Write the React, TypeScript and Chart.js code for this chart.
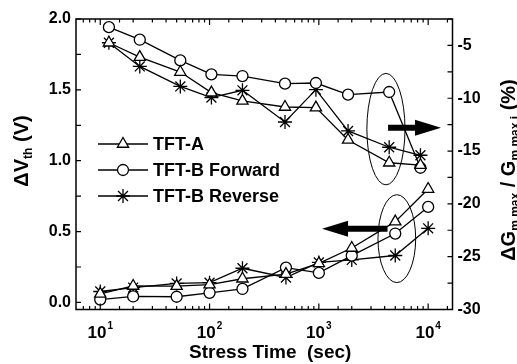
import React, { useEffect, useRef } from 'react';
import { Chart, registerables } from 'chart.js';

Chart.register(...registerables);

const FONT = "'Liberation Sans', Arial, sans-serif";

// stress times (s)
const timesLower = [10, 20, 50, 100, 200, 500, 1000, 2000, 5000, 10000];
const timesUpper = [12, 23, 54, 104, 200, 490, 940, 1850, 4400, 8500];

// ΔVth (V), left axis
const dvthTftA = [0.06, 0.116, 0.115, 0.125, 0.167, 0.2, 0.275, 0.384, 0.57, 0.8];
const dvthTftBFwd = [0.02, 0.042, 0.04, 0.068, 0.095, 0.246, 0.208, 0.33, 0.486, 0.674];
const dvthTftBRev = [0.077, 0.105, 0.134, 0.139, 0.241, 0.176, 0.282, 0.3, 0.331, 0.523];

// ΔGm_max / Gm_max_i (%), right axis
const dgmTftA = [-4.75, -6.11, -7.52, -9.47, -10.26, -10.83, -10.89, -13.95, -16.11, -16.34];
const dgmTftBFwd = [-3.27, -4.46, -6.42, -7.74, -7.9, -8.62, -8.56, -9.66, -9.41, -16.58];
const dgmTftBRev = [-4.75, -6.99, -8.88, -9.94, -9.25, -12.25, -9.19, -13.1, -14.64, -15.4];

const legendLabels = ['TFT-A', 'TFT-B Forward', 'TFT-B Reverse'];
const legendStyles = ['triangle', 'circle', 'star'];

// annotation extents in data units
const ellipseUpper = { x: [2750, 6140], y: [-18.2, -7.65], axis: 'y1' };
const ellipseLower = { x: [3475, 7690], y: [0.14, 0.76], axis: 'y' };
const arrowUpper = { x: [4300, 13100], y: -12.8, axis: 'y1' };
const arrowLower = { x: [4250, 1070], y: 0.52, axis: 'y' };

const toPts = (xs: number[], ys: number[]) => xs.map((x, i) => ({ x, y: ys[i] }));

const radiusFor: Record<string, number> = { triangle: 6.5, circle: 5.5, star: 7 };

function drawMarker(ctx: CanvasRenderingContext2D, style: string, x: number, y: number) {
  const r = radiusFor[style];
  ctx.save();
  ctx.lineWidth = 1.3;
  ctx.strokeStyle = '#000';
  ctx.fillStyle = '#fff';
  ctx.beginPath();
  if (style === 'circle') {
    ctx.arc(x, y, r, 0, Math.PI * 2);
    ctx.fill();
    ctx.stroke();
  } else if (style === 'triangle') {
    let a = 0;
    ctx.moveTo(x + Math.sin(a) * r, y - Math.cos(a) * r);
    a += (2 * Math.PI) / 3;
    ctx.lineTo(x + Math.sin(a) * r, y - Math.cos(a) * r);
    a += (2 * Math.PI) / 3;
    ctx.lineTo(x + Math.sin(a) * r, y - Math.cos(a) * r);
    ctx.closePath();
    ctx.fill();
    ctx.stroke();
  } else {
    for (let k = 0; k < 4; k++) {
      const a = (k * Math.PI) / 4;
      ctx.moveTo(x - Math.cos(a) * r, y - Math.sin(a) * r);
      ctx.lineTo(x + Math.cos(a) * r, y + Math.sin(a) * r);
    }
    ctx.stroke();
  }
  ctx.restore();
}

type Part = { t: string; s: number; dy?: number };
function drawRich(ctx: CanvasRenderingContext2D, parts: Part[], cx: number, cy: number, angle: number, base: number) {
  ctx.save();
  ctx.translate(cx, cy);
  ctx.rotate(angle);
  ctx.fillStyle = '#000';
  ctx.textBaseline = 'alphabetic';
  ctx.textAlign = 'left';
  const widths = parts.map((p) => {
    ctx.font = `bold ${p.s}px ${FONT}`;
    return ctx.measureText(p.t).width;
  });
  const total = widths.reduce((a, b) => a + b, 0);
  let x = -total / 2;
  parts.forEach((p, i) => {
    ctx.font = `bold ${p.s}px ${FONT}`;
    ctx.fillText(p.t, x, base + (p.dy || 0));
    x += widths[i];
  });
  ctx.restore();
}

const decor = {
  id: 'decor',
  afterDatasetsDraw(chart: any) {
    const ctx: CanvasRenderingContext2D = chart.ctx;
    const xs = chart.scales.x;
    ctx.save();
    ctx.strokeStyle = '#000';
    ctx.lineWidth = 1;
    [ellipseUpper, ellipseLower].forEach((e) => {
      const ys = chart.scales[e.axis];
      const x0 = xs.getPixelForValue(e.x[0]);
      const x1 = xs.getPixelForValue(e.x[1]);
      const y0 = ys.getPixelForValue(e.y[0]);
      const y1 = ys.getPixelForValue(e.y[1]);
      ctx.beginPath();
      ctx.ellipse((x0 + x1) / 2, (y0 + y1) / 2, Math.abs(x1 - x0) / 2, Math.abs(y1 - y0) / 2, 0, 0, Math.PI * 2);
      ctx.stroke();
    });
    ctx.fillStyle = '#000';
    [arrowUpper, arrowLower].forEach((a) => {
      const ys = chart.scales[a.axis];
      const xa = xs.getPixelForValue(a.x[0]);
      const xb = xs.getPixelForValue(a.x[1]);
      const y = ys.getPixelForValue(a.y);
      const dir = xb > xa ? 1 : -1;
      const head = 26;
      const hh = 8;
      const sh = 3;
      const xh = xb - dir * head;
      ctx.beginPath();
      ctx.moveTo(xa, y - sh);
      ctx.lineTo(xh, y - sh);
      ctx.lineTo(xh, y - hh);
      ctx.lineTo(xb, y);
      ctx.lineTo(xh, y + hh);
      ctx.lineTo(xh, y + sh);
      ctx.lineTo(xa, y + sh);
      ctx.closePath();
      ctx.fill();
    });
    ctx.restore();
  },
  afterDraw(chart: any) {
    const ctx: CanvasRenderingContext2D = chart.ctx;
    const { left, right, top, bottom } = chart.chartArea;
    const xs = chart.scales.x;
    const yl = chart.scales.y;
    const yr = chart.scales.y1;
    ctx.save();
    ctx.strokeStyle = '#000';
    ctx.lineWidth = 1.5;
    ctx.strokeRect(left, top, right - left, bottom - top);
    ctx.lineWidth = 1.2;
    ctx.beginPath();
    xs.ticks.forEach((t: any) => {
      if (t.value <= xs.min || t.value >= xs.max) return;
      const px = xs.getPixelForValue(t.value);
      const major = Math.abs(Math.log10(t.value) - Math.round(Math.log10(t.value))) < 1e-6;
      const len = major ? 6 : 3.5;
      ctx.moveTo(px, bottom);
      ctx.lineTo(px, bottom - len);
      ctx.moveTo(px, top);
      ctx.lineTo(px, top + len);
    });
    yl.ticks.forEach((t: any) => {
      const py = yl.getPixelForValue(t.value);
      ctx.moveTo(left, py);
      ctx.lineTo(left + 5, py);
    });
    yr.ticks.forEach((t: any) => {
      const py = yr.getPixelForValue(t.value);
      ctx.moveTo(right, py);
      ctx.lineTo(right - 5, py);
    });
    ctx.stroke();

    // x tick labels 10^n
    ctx.fillStyle = '#000';
    ctx.textBaseline = 'alphabetic';
    xs.ticks.forEach((t: any) => {
      const e = Math.log10(t.value);
      if (Math.abs(e - Math.round(e)) > 1e-6) return;
      const px = xs.getPixelForValue(t.value);
      ctx.font = `bold 17px ${FONT}`;
      const w1 = ctx.measureText('10').width;
      ctx.font = `bold 10px ${FONT}`;
      const sup = String(Math.round(e));
      const w2 = ctx.measureText(sup).width;
      const x0 = px - (w1 + w2 + 1) / 2;
      ctx.font = `bold 17px ${FONT}`;
      ctx.fillText('10', x0, bottom + 28);
      ctx.font = `bold 10px ${FONT}`;
      ctx.fillText(sup, x0 + w1 + 1, bottom + 19);
    });

    // axis titles
    drawRich(ctx, [{ t: 'Stress Time  (sec)', s: 19 }], (left + right) / 2 + 6, bottom + 41, 0, 7);
    drawRich(ctx, [{ t: 'ΔV', s: 20 }, { t: 'th', s: 12, dy: 4 }, { t: ' (V)', s: 20 }], 21, 151, -Math.PI / 2, 7);
    drawRich(
      ctx,
      [
        { t: 'ΔG', s: 20 },
        { t: 'm max', s: 12, dy: 4 },
        { t: ' / G', s: 20 },
        { t: 'm max i', s: 12, dy: 4 },
        { t: ' (%)', s: 20 },
      ],
      508,
      170,
      -Math.PI / 2,
      7
    );

    // legend
    const rows = [top + 125, top + 151, top + 177];
    legendLabels.forEach((lab, i) => {
      const y = rows[i];
      ctx.lineWidth = 1.3;
      ctx.beginPath();
      ctx.moveTo(left + 22, y);
      ctx.lineTo(left + 72, y);
      ctx.stroke();
      drawMarker(ctx, legendStyles[i], left + 47, y);
      ctx.fillStyle = '#000';
      ctx.font = `bold 18px ${FONT}`;
      ctx.textBaseline = 'middle';
      ctx.fillText(lab, left + 77, y + 1);
    });
    ctx.restore();
  },
};

function ds(data: { x: number; y: number }[], style: string, axis: string) {
  return {
    data,
    yAxisID: axis,
    borderColor: '#000',
    borderWidth: 1.3,
    pointStyle: style,
    pointRadius: radiusFor[style],
    pointBackgroundColor: '#fff',
    pointBorderColor: '#000',
    pointBorderWidth: 1.3,
    tension: 0,
    fill: false,
  };
}

export default function App() {
  const ref = useRef<HTMLCanvasElement>(null);
  useEffect(() => {
    const chart = new Chart(ref.current as HTMLCanvasElement, {
      type: 'line',
      data: {
        datasets: [
          ds(toPts(timesUpper, dgmTftA), 'triangle', 'y1'),
          ds(toPts(timesUpper, dgmTftBFwd), 'circle', 'y1'),
          ds(toPts(timesUpper, dgmTftBRev), 'star', 'y1'),
          ds(toPts(timesLower, dvthTftA), 'triangle', 'y'),
          ds(toPts(timesLower, dvthTftBFwd), 'circle', 'y'),
          ds(toPts(timesLower, dvthTftBRev), 'star', 'y'),
        ] as any,
      },
      options: {
        responsive: false,
        animation: false,
        devicePixelRatio: 1,
        layout: { padding: { top: 19, left: 0, right: 0, bottom: 0 } },
        plugins: { legend: { display: false }, tooltip: { enabled: false } },
        scales: {
          x: {
            type: 'logarithmic',
            min: 6,
            max: 16700,
            grid: { display: false, drawTicks: false },
            border: { display: false },
            ticks: { display: false },
            afterFit: (s: any) => {
              s.height = 54.5;
            },
          },
          y: {
            type: 'linear',
            position: 'left',
            min: -0.05,
            max: 2.0,
            grid: { display: false, drawTicks: false, tickLength: 0 },
            border: { display: false },
            ticks: {
              stepSize: 0.25,
              includeBounds: false,
              autoSkip: false,
              padding: 5,
              color: '#000',
              font: { family: FONT, size: 16, weight: 'bold' },
              callback: (v: any) => (Math.abs(v * 2 - Math.round(v * 2)) < 1e-6 ? Number(v).toFixed(1) : ''),
            },
            afterFit: (s: any) => {
              s.width = 76;
            },
          },
          y1: {
            type: 'linear',
            position: 'right',
            min: -30,
            max: -2.5,
            grid: { display: false, drawTicks: false, tickLength: 0 },
            border: { display: false },
            ticks: {
              stepSize: 2.5,
              includeBounds: false,
              autoSkip: false,
              padding: 5,
              color: '#000',
              font: { family: FONT, size: 16, weight: 'bold' },
              callback: (v: any) => (Math.abs(v / 5 - Math.round(v / 5)) < 1e-6 ? String(Math.round(v)) : ''),
            },
            afterFit: (s: any) => {
              s.width = 64.5;
            },
          },
        },
      } as any,
      plugins: [decor],
    });
    return () => chart.destroy();
  }, []);
  return (
    <div style={{ position: 'fixed', left: 0, top: 0, width: 517, height: 364, background: '#fff' }}>
      <canvas ref={ref} width={517} height={364} style={{ display: 'block', width: 517, height: 364 }} />
    </div>
  );
}
